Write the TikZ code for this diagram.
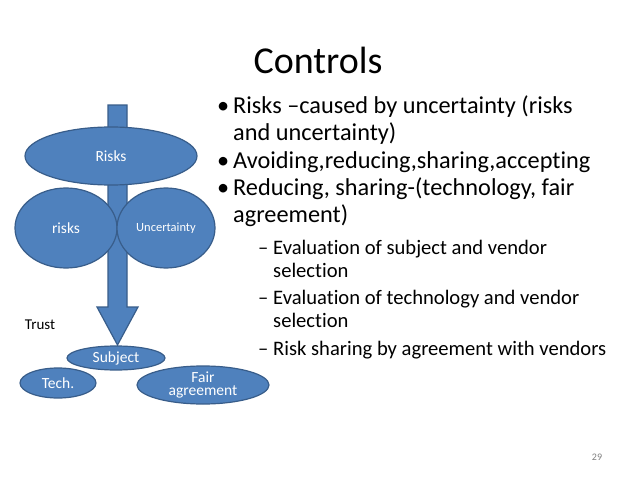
\documentclass[tikz,border=0pt]{standalone}
\usepackage{fontspec}
\setmainfont[Ligatures=NoCommon]{Carlito}
\usetikzlibrary{shapes.geometric}
\definecolor{bfill}{HTML}{4F81BD}
\definecolor{bdraw}{HTML}{385D8A}
\begin{document}
\begin{tikzpicture}[x=1pt,y=-1pt,
  ell/.style={ellipse,fill=bfill,draw=bdraw,line width=1.2pt,text=white,font=\fontsize{15.5}{16}\selectfont,align=center,inner sep=0pt},
  bul/.style={anchor=north west,font=\fontsize{24.3}{27}\selectfont,align=left,inner sep=0pt},
  sub/.style={anchor=north west,font=\fontsize{20.6}{22.5}\selectfont,align=left,inner sep=0pt}]
\useasboundingbox (0,0) rectangle (638,479);
\fill[white] (0,0) rectangle (638,479);
\path[fill=bfill,draw=bdraw,line width=1.2pt] (108,105) -- (127,105) -- (127,307) -- (138,307) -- (117.5,345) -- (97,307) -- (108,307) -- cycle;
\node[ell,minimum width=172pt,minimum height=58pt] (risksbig) at (111,156) {Risks};
\node[ell,minimum width=102pt,minimum height=80pt] (risks) at (66,228) {risks};
\node[ell,minimum width=98pt,minimum height=80pt,font=\fontsize{12.5}{13}\selectfont] (unc) at (166,228) {Uncertainty};
\node[ell,minimum width=98pt,minimum height=24pt] (subj) at (116,358) {Subject};
\node[ell,minimum width=76pt,minimum height=30pt] (tech) at (58,383) {Tech.};
\node[ell,minimum width=132pt,minimum height=38pt] (fair) at (203,385) {Fair\\[-3pt]agreement};
\node[font=\fontsize{15}{16}\selectfont] (trust) at (40,325) {Trust};
\node[font=\fontsize{38}{40}\selectfont] (title) at (318,60) {Controls};
\node[bul] (b1) at (217,96) {\makebox[16pt][l]{\textbullet}Risks –caused by uncertainty (risks\\\hspace{16pt}and uncertainty)};
\node[bul] (b2) at (217,151) {\makebox[16pt][l]{\textbullet}Avoiding,reducing,sharing,accepting};
\node[bul] (b3) at (217,178) {\makebox[16pt][l]{\textbullet}Reducing, sharing-(technology, fair\\\hspace{16pt}agreement)};
\node[sub] (s1) at (258,240) {\makebox[15pt][l]{–}Evaluation of subject and vendor\\\hspace{15pt}selection};
\node[sub] (s2) at (258,290) {\makebox[15pt][l]{–}Evaluation of technology and vendor\\\hspace{15pt}selection};
\node[sub] (s3) at (258,341) {\makebox[15pt][l]{–}Risk sharing by agreement with vendors};
\node[font=\fontsize{10}{12}\selectfont,text=gray] (pg) at (597,457) {29};
\end{tikzpicture}
\end{document}
